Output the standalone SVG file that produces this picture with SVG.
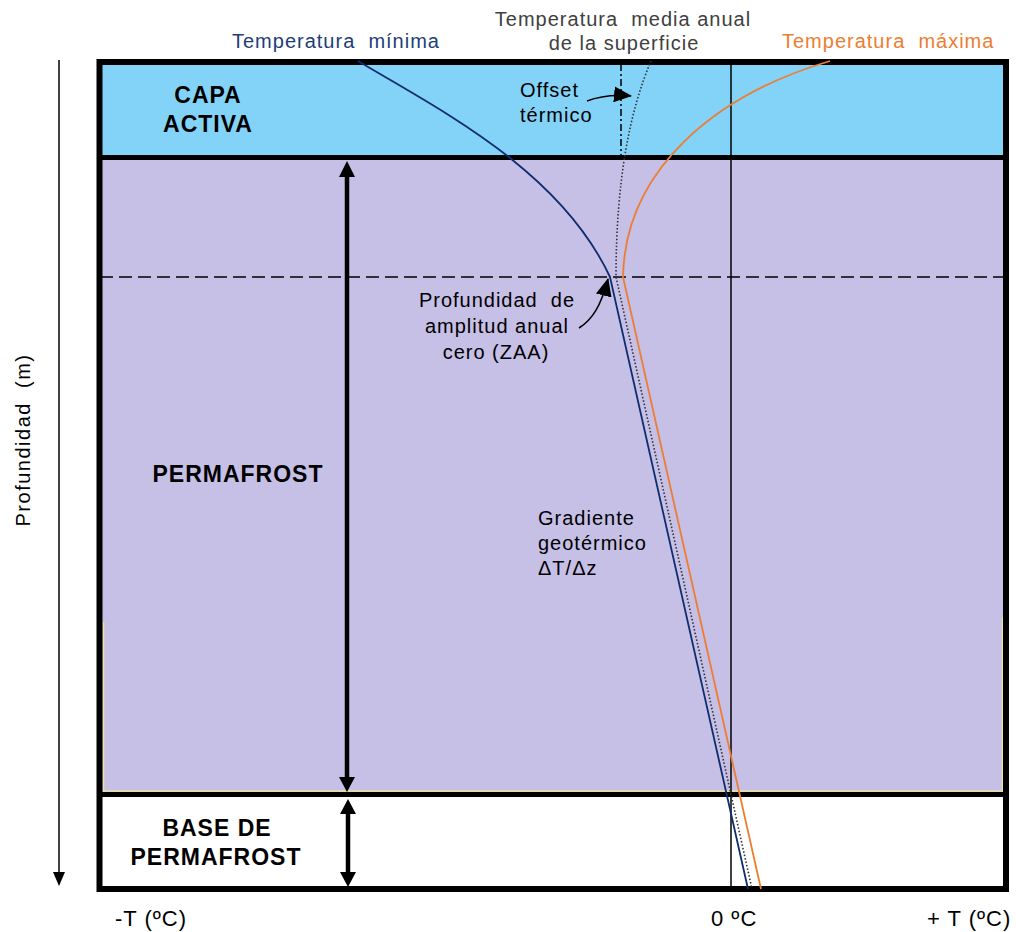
<svg xmlns="http://www.w3.org/2000/svg" width="1016" height="932" viewBox="0 0 1016 932">
<style>
text{font-family:"Liberation Sans",Arial,sans-serif;white-space:pre;}
.lbl{font-size:20px;letter-spacing:1px;fill:#000;}
.big{font-size:23px;font-weight:bold;letter-spacing:1px;fill:#000;}
.ax{font-size:22px;letter-spacing:1px;fill:#000;}
.border{fill:none;stroke:#000;stroke-width:6;}
.sep{stroke:#000;stroke-width:5;}
.thin{stroke:#000;stroke-width:1.5;fill:none;}
.blue{stroke:#0f2d6e;stroke-width:1.8;fill:none;}
.orange{stroke:#ed7d31;stroke-width:1.8;fill:none;}
.dot{stroke:#333;stroke-width:1.6;fill:none;stroke-dasharray:1.5 2;}
.yel{stroke:#ece2a4;stroke-width:1.6;fill:none;}
.head{fill:#000;}
</style>
<defs>
<marker id="ah" viewBox="0 0 18 16" refX="17" refY="8" markerWidth="18" markerHeight="16" markerUnits="userSpaceOnUse" orient="auto">
<path d="M0,0 L18,8 L0,16 z" fill="#000"/>
</marker>
</defs>
<rect width="1016" height="932" fill="#fff"/>

<g id="capa-activa">
<rect x="100" y="62" width="906" height="96" fill="#83d3f9"/>
<text class="big" x="208" y="103" text-anchor="middle">CAPA</text>
<text class="big" x="208" y="132" text-anchor="middle">ACTIVA</text>
</g>

<g id="permafrost">
<rect x="100" y="157" width="906" height="638" fill="#c6bfe6"/>
<polyline class="yel" points="103.5,622 103.5,791 1002.5,791 1002.5,617"/>
<text class="big" x="238" y="482" text-anchor="middle">PERMAFROST</text>
</g>

<g id="base-permafrost">
<rect x="100" y="795" width="906" height="93" fill="#fff"/>
<text class="big" x="217" y="836" text-anchor="middle">BASE DE</text>
<text class="big" x="216" y="865" text-anchor="middle">PERMAFROST</text>
</g>

<g id="frame">
<line class="sep" x1="100" y1="157.5" x2="1006" y2="157.5"/>
<line class="sep" x1="100" y1="794.5" x2="1006" y2="794.5"/>
<rect class="border" x="99.5" y="62" width="906.5" height="827"/>
</g>

<g id="guides">
<line class="thin" x1="731" y1="62" x2="731" y2="889"/>
<line class="thin" x1="100" y1="277" x2="1006" y2="277" stroke-dasharray="13 6"/>
<line class="thin" x1="621" y1="64" x2="621" y2="157" stroke-dasharray="7 3 2 3"/>
</g>

<g id="connectors">
<path class="blue" d="M358,61 C440,110 560,170 610,277 L748,889"/>
<path class="orange" d="M830,61 C715,95 625,170 623,277 L761,889"/>
<path class="dot" d="M651,61 C630,110 616,180 616,277 L752,889"/>
<path class="thin" d="M587,101 C597,97 610,94 631,96" stroke-width="2.2" marker-end="url(#ah)"/>
<path class="thin" d="M579,328 C592,320 601,306 608,279" stroke-width="2.2" marker-end="url(#ah)"/>
<line x1="347" y1="175" x2="347" y2="779" stroke="#000" stroke-width="4.5"/>
<polygon class="head" points="347,161 339,177 355,177"/>
<polygon class="head" points="347,792 339,777 355,777"/>
<line x1="348" y1="812" x2="348" y2="874" stroke="#000" stroke-width="4.5"/>
<polygon class="head" points="348,799 340,814 356,814"/>
<polygon class="head" points="348,887 340,872 356,872"/>
<line x1="59" y1="60" x2="59" y2="874" stroke="#000" stroke-width="1.5"/>
<polygon class="head" points="59,886 53,872 65,872"/>
</g>

<g id="labels">
<text class="lbl" x="232" y="48" style="fill:#1f3d7a">Temperatura  mínima</text>
<text class="lbl" x="623" y="26" text-anchor="middle" style="fill:#404040">Temperatura  media anual</text>
<text class="lbl" x="624" y="50" text-anchor="middle" style="fill:#404040">de la superficie</text>
<text class="lbl" x="782" y="48" style="fill:#ed7d31">Temperatura  máxima</text>
<text class="lbl" x="520" y="97">Offset</text>
<text class="lbl" x="520" y="122">térmico</text>
<text class="lbl" x="497" y="307" text-anchor="middle">Profundidad  de</text>
<text class="lbl" x="497" y="333" text-anchor="middle">amplitud anual</text>
<text class="lbl" x="496" y="359" text-anchor="middle">cero (ZAA)</text>
<text class="lbl" x="538" y="525">Gradiente</text>
<text class="lbl" x="538" y="550">geotérmico</text>
<text class="lbl" x="538" y="575">ΔT/Δz</text>
<text class="lbl" transform="translate(30,440) rotate(-90)" text-anchor="middle" style="letter-spacing:1.5px">Profundidad  (m)</text>
<text class="ax" x="115" y="926">-T (ºC)</text>
<text class="ax" x="711" y="926">0 ºC</text>
<text class="ax" x="927" y="926">+ T (ºC)</text>
</g>
</svg>
